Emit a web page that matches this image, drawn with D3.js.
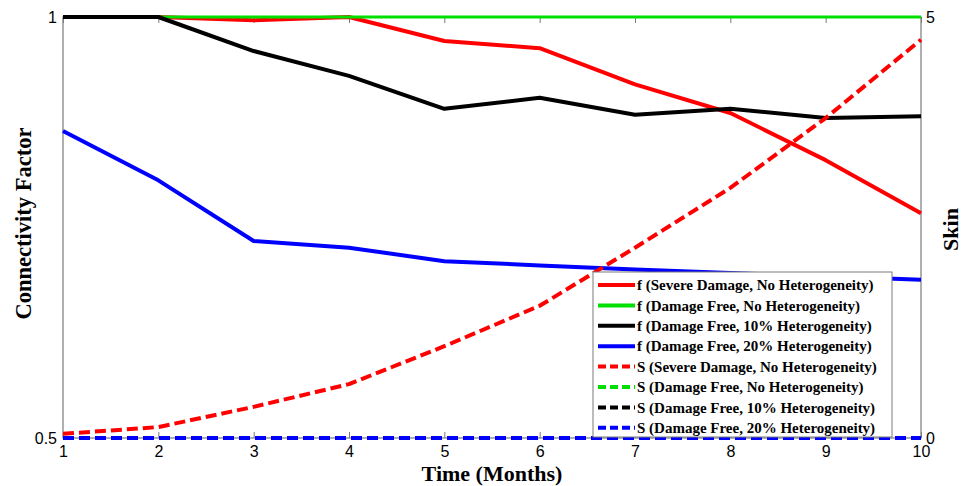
<!DOCTYPE html>
<html>
<head>
<meta charset="utf-8">
<script src="https://cdn.jsdelivr.net/npm/d3@7"></script>
<style>
  html, body { margin: 0; padding: 0; background: #fff; }
  svg { display: block; }
</style>
</head>
<body>
<svg id="chart" width="971" height="486"></svg>
<script>
// Time axis (months)
const months = [1, 2, 3, 4, 5, 6, 7, 8, 9, 10];

// Connectivity factor f (left axis)
const fSevereNoHet   = [1, 1, 0.996, 1, 0.9715, 0.963, 0.920, 0.886, 0.830, 0.767];
const fFreeNoHet     = [1, 1, 1, 1, 1, 1, 1, 1, 1, 1];
const fFree10Het     = [1, 1, 0.9596, 0.930, 0.891, 0.904, 0.884, 0.891, 0.880, 0.882];
const fFree20Het     = [0.8646, 0.806, 0.734, 0.726, 0.710, 0.705, 0.700, 0.696, 0.692, 0.688];

// Skin S (right axis)
const sSevereNoHet   = [0.05, 0.13, 0.37, 0.64, 1.09, 1.57, 2.26, 2.97, 3.80, 4.73];
const sFreeNoHet     = [0, 0, 0, 0, 0, 0, 0, 0, 0, 0];
const sFree10Het     = [0, 0, 0, 0, 0, 0, 0, 0, 0, 0];
const sFree20Het     = [0, 0, 0, 0, 0, 0, 0, 0, 0, 0];

const xTicks = [1, 2, 3, 4, 5, 6, 7, 8, 9, 10];
const leftTicks = [0.5, 1];
const rightTicks = [0, 5];

const series = [
  { name: "f (Severe Damage, No Heterogeneity)", values: fSevereNoHet, axis: "left",  color: "#ff0000", dashed: false },
  { name: "f (Damage Free, No Heterogeneity)",   values: fFreeNoHet,   axis: "left",  color: "#00e000", dashed: false },
  { name: "f (Damage Free, 10% Heterogeneity)",  values: fFree10Het,   axis: "left",  color: "#000000", dashed: false },
  { name: "f (Damage Free, 20% Heterogeneity)",  values: fFree20Het,   axis: "left",  color: "#0000ff", dashed: false },
  { name: "S (Severe Damage, No Heterogeneity)", values: sSevereNoHet, axis: "right", color: "#ff0000", dashed: true },
  { name: "S (Damage Free, No Heterogeneity)",   values: sFreeNoHet,   axis: "right", color: "#00e000", dashed: true },
  { name: "S (Damage Free, 10% Heterogeneity)",  values: sFree10Het,   axis: "right", color: "#000000", dashed: true },
  { name: "S (Damage Free, 20% Heterogeneity)",  values: sFree20Het,   axis: "right", color: "#0000ff", dashed: true }
];

const svg = d3.select("#chart");
const plot = { left: 63, right: 921, top: 17, bottom: 438 };

const x = d3.scaleLinear().domain([1, 10]).range([plot.left, plot.right]);
const yL = d3.scaleLinear().domain([0.5, 1]).range([plot.bottom, plot.top]);
const yR = d3.scaleLinear().domain([0, 5]).range([plot.bottom, plot.top]);

const frameColor = "#7a7a7a";
const tickFont = "Arial, 'Liberation Sans', sans-serif";
const labelFont = "'Times New Roman', 'Liberation Serif', serif";

// Plot frame
svg.append("rect")
  .attr("x", plot.left).attr("y", plot.top)
  .attr("width", plot.right - plot.left).attr("height", plot.bottom - plot.top)
  .attr("fill", "none").attr("stroke", frameColor).attr("stroke-width", 1.2);

// Axes with inward ticks
function styleAxis(g) {
  g.select(".domain").remove();
  g.selectAll(".tick line").attr("stroke", frameColor).attr("stroke-width", 1);
  g.selectAll(".tick text").attr("fill", "#000").style("font-family", tickFont).style("font-size", "16px");
}

svg.append("g")
  .attr("transform", `translate(0,${plot.bottom})`)
  .call(d3.axisBottom(x).tickValues(xTicks).tickFormat(d3.format("d")).tickSizeInner(-6).tickSizeOuter(0).tickPadding(8))
  .call(styleAxis);

svg.append("g")
  .attr("transform", `translate(0,${plot.top})`)
  .call(d3.axisTop(x).tickValues(xTicks).tickFormat("").tickSizeInner(-6).tickSizeOuter(0))
  .call(styleAxis);

svg.append("g")
  .attr("transform", `translate(${plot.left},0)`)
  .call(d3.axisLeft(yL).tickValues(leftTicks).tickFormat(d => d === 1 ? "1" : "0.5").tickSizeInner(0).tickSizeOuter(0).tickPadding(6))
  .call(styleAxis);

svg.append("g")
  .attr("transform", `translate(${plot.right},0)`)
  .call(d3.axisRight(yR).tickValues(rightTicks).tickFormat(d3.format("d")).tickSizeInner(0).tickSizeOuter(0).tickPadding(5))
  .call(styleAxis);

// Series lines
const lineL = d3.line().x((d, i) => x(months[i])).y(d => yL(d));
const lineR = d3.line().x((d, i) => x(months[i])).y(d => yR(d));

series.forEach(s => {
  svg.append("path")
    .datum(s.values)
    .attr("d", s.axis === "left" ? lineL : lineR)
    .attr("fill", "none")
    .attr("stroke", s.color)
    .attr("stroke-width", s.axis === "left" && s.color === "#00e000" ? 3 : 4)
    .attr("stroke-linejoin", "round")
    .attr("stroke-dasharray", s.dashed ? "11,5" : null);
});

// Legend
const legend = { x: 593, y: 272, w: 299, h: 165, rowH: 20.4 };
const lg = svg.append("g");
lg.append("rect")
  .attr("x", legend.x).attr("y", legend.y)
  .attr("width", legend.w).attr("height", legend.h)
  .attr("fill", "#fff").attr("stroke", frameColor).attr("stroke-width", 1);

series.forEach((s, i) => {
  const cy = legend.y + 13 + i * legend.rowH;
  lg.append("line")
    .attr("x1", legend.x + 5).attr("x2", legend.x + 42)
    .attr("y1", cy).attr("y2", cy)
    .attr("stroke", s.color).attr("stroke-width", 4)
    .attr("stroke-dasharray", s.dashed ? "8,4" : null);
  lg.append("text")
    .attr("x", legend.x + 44).attr("y", cy)
    .attr("dy", "0.35em")
    .style("font-family", labelFont).style("font-weight", "bold").style("font-size", "15px")
    .text(s.name);
});

// Axis titles
svg.append("text")
  .attr("x", (plot.left + plot.right) / 2).attr("y", 481)
  .attr("text-anchor", "middle")
  .style("font-family", labelFont).style("font-weight", "bold").style("font-size", "22px")
  .text("Time (Months)");

svg.append("text")
  .attr("transform", `translate(31,${(plot.top + plot.bottom) / 2 - 4}) rotate(-90)`)
  .attr("text-anchor", "middle")
  .style("font-family", labelFont).style("font-weight", "bold").style("font-size", "22.5px")
  .text("Connectivity Factor");

svg.append("text")
  .attr("transform", `translate(958,${(plot.top + plot.bottom) / 2 + 2}) rotate(-90)`)
  .attr("text-anchor", "middle")
  .style("font-family", labelFont).style("font-weight", "bold").style("font-size", "22px")
  .text("Skin");
</script>
</body>
</html>
